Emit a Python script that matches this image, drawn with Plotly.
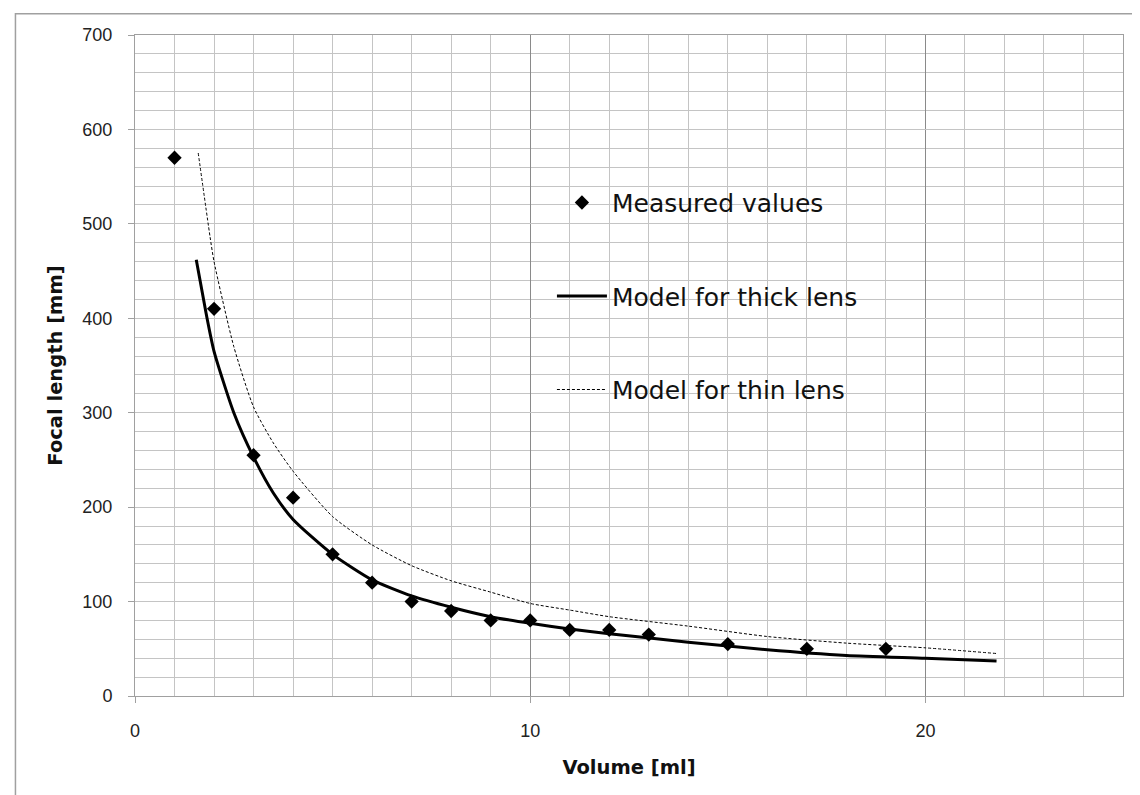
import plotly.graph_objects as go

# measured points (volume in ml, focal length in mm)
vol_measured = [1, 2, 3, 4, 5, 6, 7, 8, 9, 10, 11, 12, 13, 15, 17, 19]
f_measured = [570, 410, 255, 210, 150, 120, 100, 90, 80, 80, 70, 70, 65, 55, 50, 50]

# model curves
vol_thick = [1.55, 1.8, 2, 2.5, 3, 3.5, 4, 5, 6, 7, 8, 9, 10, 11, 12, 14, 16, 18, 20, 21.8]
f_thick = [462, 405, 365, 300, 253, 215, 187, 150, 123, 106, 94, 84, 77, 71, 66, 57, 49, 43, 40, 37]

vol_thin = [1.6, 1.9, 2, 2.5, 3, 3.5, 4, 5, 6, 7, 8, 9, 10, 11, 12, 14, 16, 18, 20, 21.8]
f_thin = [575, 486, 460, 370, 306, 268, 238, 190, 160, 138, 122, 110, 98, 91, 84, 74, 63, 56, 51, 45]

FONT = "Arial, Liberation Sans, sans-serif"
WIDE = "DejaVu Sans, Verdana, sans-serif"
MINOR = "#c4c4c4"

fig = go.Figure()

fig.add_trace(go.Scatter(
    x=vol_measured, y=f_measured, mode="markers", name="Measured values",
    marker=dict(symbol="diamond", size=11, color="black"),
    legendgroup="a",
))
fig.add_trace(go.Scatter(
    x=vol_thick, y=f_thick, mode="lines", name="Model for thick lens",
    line=dict(color="black", width=3, shape="spline", smoothing=0.6),
    legendgroup="b",
))
fig.add_trace(go.Scatter(
    x=vol_thin, y=f_thin, mode="lines", name="Model for thin lens",
    line=dict(color="black", width=1, dash="3px,2px", shape="spline", smoothing=0.6),
    legendgroup="c",
))

fig.update_layout(
    width=1140, height=795,
    margin=dict(l=127, r=25, t=27, b=107),
    paper_bgcolor="white", plot_bgcolor="white",
    font=dict(family=FONT, color="#222"),
    legend=dict(
        x=0.422, y=0.781, xanchor="left", yanchor="top",
        bgcolor="rgba(0,0,0,0)", font=dict(family=WIDE, size=25, color="#111"),
        itemwidth=50, tracegroupgap=58, traceorder="grouped",
    ),
    shapes=[dict(
        type="rect", xref="paper", yref="paper",
        x0=-0.121, x1=1.2, y0=-0.3, y1=1.032,
        line=dict(color="#a0a0a0", width=1.5), layer="below",
    )],
)

fig.update_xaxes(
    range=[0, 25], dtick=10, tick0=0,
    showgrid=True, gridcolor="#8a8a8a", gridwidth=1,
    minor=dict(dtick=1, showgrid=True, gridcolor=MINOR, gridwidth=1),
    showline=True, linecolor="#a0a0a0", mirror=True,
    ticks="outside", ticklen=6, tickcolor="#a0a0a0",
    ticklabelstandoff=12, tickfont=dict(size=18),
    zeroline=False,
    title=dict(text="<b>Volume [ml]</b>", font=dict(family=WIDE, size=19.5, color="#111"), standoff=20),
)
fig.update_yaxes(
    range=[0, 700], dtick=100, tick0=0,
    showgrid=True, gridcolor=MINOR, gridwidth=1,
    minor=dict(dtick=20, showgrid=True, gridcolor=MINOR, gridwidth=1),
    showline=True, linecolor="#a0a0a0", mirror=True,
    ticks="outside", ticklen=6, tickcolor="#a0a0a0",
    ticklabelstandoff=12, tickfont=dict(size=18),
    zeroline=False,
    title=dict(text="<b>Focal length [mm]</b>", font=dict(family=WIDE, size=19.5, color="#111"), standoff=14),
)

fig.write_html("out.html")
